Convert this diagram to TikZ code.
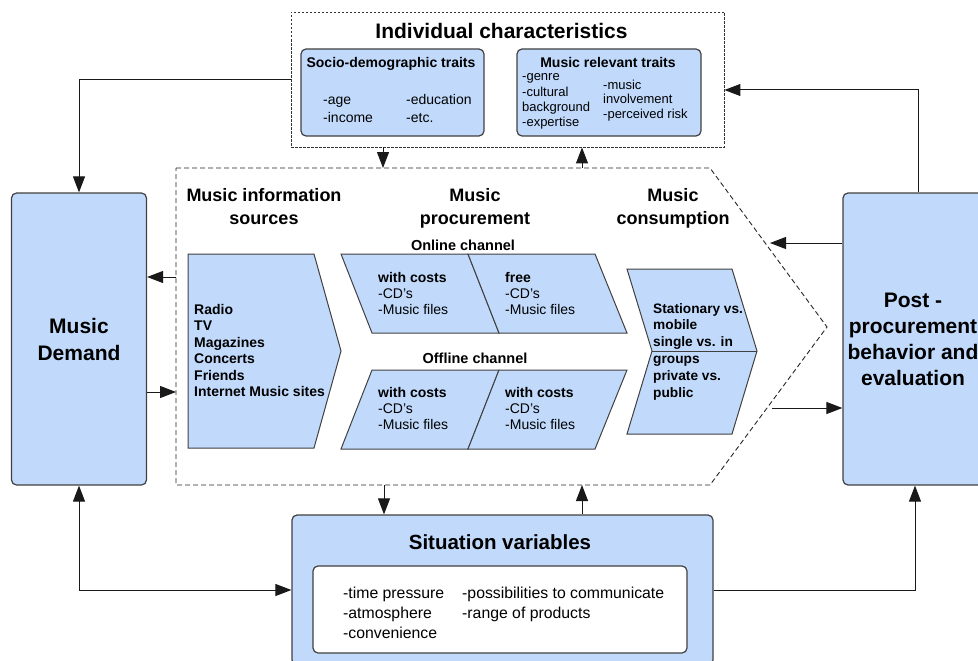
\documentclass[tikz,border=0pt]{standalone}
\usepackage{fontspec}
\setmainfont{Liberation Sans}
\usetikzlibrary{arrows.meta}
\definecolor{boxfill}{RGB}{193,218,252}
\definecolor{boxline}{RGB}{64,64,64}
\newcommand\setfs[2]{\fontsize{#1}{#2}\selectfont}

\begin{document}
\begin{tikzpicture}
        [x=1pt,y=-1pt,>={Triangle[length=16pt,width=12pt]},
        bluebox/.style={draw=boxline,fill=boxfill,line width=1.2pt,rounded corners=5pt},%
        whitebox/.style={draw=boxline,fill=white,line width=1.2pt,rounded corners=5pt},%
        dotbox/.style={draw=black!80,line width=0.9pt,dash pattern=on 2.5pt off 1.5pt},%
        hubline/.style={draw=black!85,line width=0.9pt,dash pattern=on 5pt off 3pt},%
        shapedecorate/.style={draw=boxline,fill=boxfill,line width=1pt},%
        arrowdecorate/.style={draw=black!90,line width=1pt},%
        txt/.style={inner sep=0pt,anchor=base west},%
        ctxt/.style={inner sep=0pt,anchor=base}]
        \useasboundingbox (0,0) rectangle (978,661);

        %% individual characteristics
        \node[dotbox,minimum width=433,minimum height=135] (indiv) at (507.5,79.5) {};
        \node[ctxt] (indivtitle) at (501.5,38.5) {\setfs{21}{25}\bfseries Individual characteristics};
        \node[bluebox,minimum width=183,minimum height=87] (socio) at (392.5,92.5) {};
        \node[bluebox,minimum width=184,minimum height=87] (relevant) at (609,92.5) {};
        \node[ctxt] (sociotitle) at (391,67) {\setfs{14}{17}\bfseries Socio-demographic traits};
        \node[ctxt] (relevanttitle) at (608,67) {\setfs{14}{17}\bfseries Music relevant traits};
        \foreach \nodename/\x/\y/\word in {age/323/104/-age, income/323/122/-income,
          edu/406/104/-education, etc/406/122/-etc.}
        {
          \node[txt] (\nodename) at (\x,\y) {\setfs{14}{17}\word};
        }
        \foreach \nodename/\x/\y/\word in {genre/522/81/-genre, cultural/522/96/-cultural,
          backgr/522/112/background, expert/522/127/-expertise, music/603/89/-music,
          involve/603/103/involvement, risk/603/118/-perceived risk}
        {
          \node[txt] (\nodename) at (\x,\y) {\setfs{13}{15}\word};
        }

        %% central process shape
        \coordinate (hubNW) at (176,168);
        \coordinate (hubNE) at (710,168);
        \coordinate (hubTip) at (827,327);
        \coordinate (hubSE) at (710,485);
        \coordinate (hubSW) at (176,485);
        \draw[hubline] (hubNW) -- (hubNE) -- (hubTip) -- (hubSE) -- (hubSW) -- cycle;
        \foreach \nodename/\x/\y/\word in {hda/264/201/Music information, hdb/264/224/sources,
          hdc/475/201/Music, hdd/475/224/procurement, hde/673/201/Music, hdf/673/224/consumption}
        {
          \node[ctxt] (\nodename) at (\x,\y) {\setfs{18}{21}\bfseries\word};
        }

        %% information sources
        \draw[shapedecorate] (188,254) -- (314,254) -- (341,351) -- (314,448) -- (188,448) -- cycle;
        \foreach \word [count=\i] in {Radio, TV, Magazines, Concerts, Friends, Internet Music sites}
        {
          \node[txt] (src\i) at (194,297.5+16.5*\i) {\setfs{14}{17}\bfseries\word};
        }

        %% procurement channels
        \foreach \a/\b/\c/\d/\ya/\yb in {341/468/499/372/254/333, 468/595/627/499/254/333,
          372/499/468/341/370/449, 499/627/595/468/370/449}
        {
          \draw[shapedecorate] (\a,\ya) -- (\b,\ya) -- (\c,\yb) -- (\d,\yb) -- cycle;
        }
        \node[ctxt] (online) at (463,250) {\setfs{14.5}{17}\bfseries Online channel};
        \node[ctxt] (offline) at (475,363) {\setfs{14.5}{17}\bfseries Offline channel};
        \foreach \nodename/\x/\y/\head in {onA/378/282/with costs, onB/505/282/free,
          offA/378/397/with costs, offB/505/397/with costs}
        {
          \node[txt] (\nodename) at (\x,\y) {\setfs{14}{17}\bfseries\head};
          \node[txt] (\nodename-cd) at (\x,\y+16) {\setfs{14}{17}-CD's};
          \node[txt] (\nodename-mf) at (\x,\y+32.5) {\setfs{14}{17}-Music files};
        }

        %% consumption
        \draw[shapedecorate] (627,269) -- (732,269) -- (757,351) -- (732,434) -- (627,434) -- (652,351) -- cycle;
        \draw[shapedecorate] (652,351) -- (757,351);
        \foreach \word [count=\i] in {Stationary vs., mobile, single vs. in, groups, private vs., public}
        {
          \node[txt] (use\i) at (653,296.2+16.8*\i) {\setfs{13.7}{16}\bfseries\word};
        }

        %% outer boxes
        \node[bluebox,minimum width=135,minimum height=292,align=center,
          font={\setfs{21}{27}\bfseries}] (demand) at (79,339) {Music\\Demand};
        \node[bluebox,minimum width=140,minimum height=292,align=center,
          font={\setfs{21}{26}\bfseries}] (post) at (913,339) {Post -\\procurement\\behavior and\\evaluation};
        \node[bluebox,minimum width=421,minimum height=150] (situ) at (502.5,590) {};
        \node[ctxt] (situtitle) at (500,549) {\setfs{20.5}{24}\bfseries Situation variables};
        \node[whitebox,minimum width=374,minimum height=87] (situinner) at (500,609.5) {};
        \foreach \nodename/\x/\y/\word in {time/343/598/-time pressure, atmo/343/618/-atmosphere,
          conv/343/638/-convenience, comm/462/598/-possibilities to communicate,
          range/462/618/-range of products}
        {
          \node[txt] (\nodename) at (\x,\y) {\setfs{15.8}{19}\word};
        }

        %% connectors
        \coordinate (hubIn) at (383,168);
        \coordinate (hubOut) at (582,168);
        \coordinate (hubL1) at (176,277);
        \coordinate (hubL2) at (176,392);
        \coordinate (hubR1) at (770,243);
        \coordinate (hubR2) at (772,408);
        \coordinate (hubB1) at (384,485);
        \coordinate (hubB2) at (582,485);
        \draw[arrowdecorate,->] (indiv.west) -| (demand.north);
        \draw[arrowdecorate,->] ([xshift=5pt]post.north) |- ([yshift=-10.5pt]indiv.east);
        \draw[arrowdecorate,->] (indiv.south -| hubIn) -- (hubIn);
        \draw[arrowdecorate,->] (hubOut) -- (hubOut |- indiv.south);
        \draw[arrowdecorate,->] (hubL1) -- (hubL1 -| demand.east);
        \draw[arrowdecorate,->] (hubL2 -| demand.east) -- (hubL2);
        \draw[arrowdecorate,->] (hubR1 -| post.west) -- (hubR1);
        \draw[arrowdecorate,->] (hubR2) -- (hubR2 -| post.west);
        \draw[arrowdecorate,->] (hubB1) -- (hubB1 |- situ.north);
        \draw[arrowdecorate,->] (hubB2 |- situ.north) -- (hubB2);
        \draw[arrowdecorate,<->] (demand.south) |- (situ.west);
        \draw[arrowdecorate,->] (situ.east) -| ([xshift=2pt]post.south);
      \end{tikzpicture}
\end{document}
